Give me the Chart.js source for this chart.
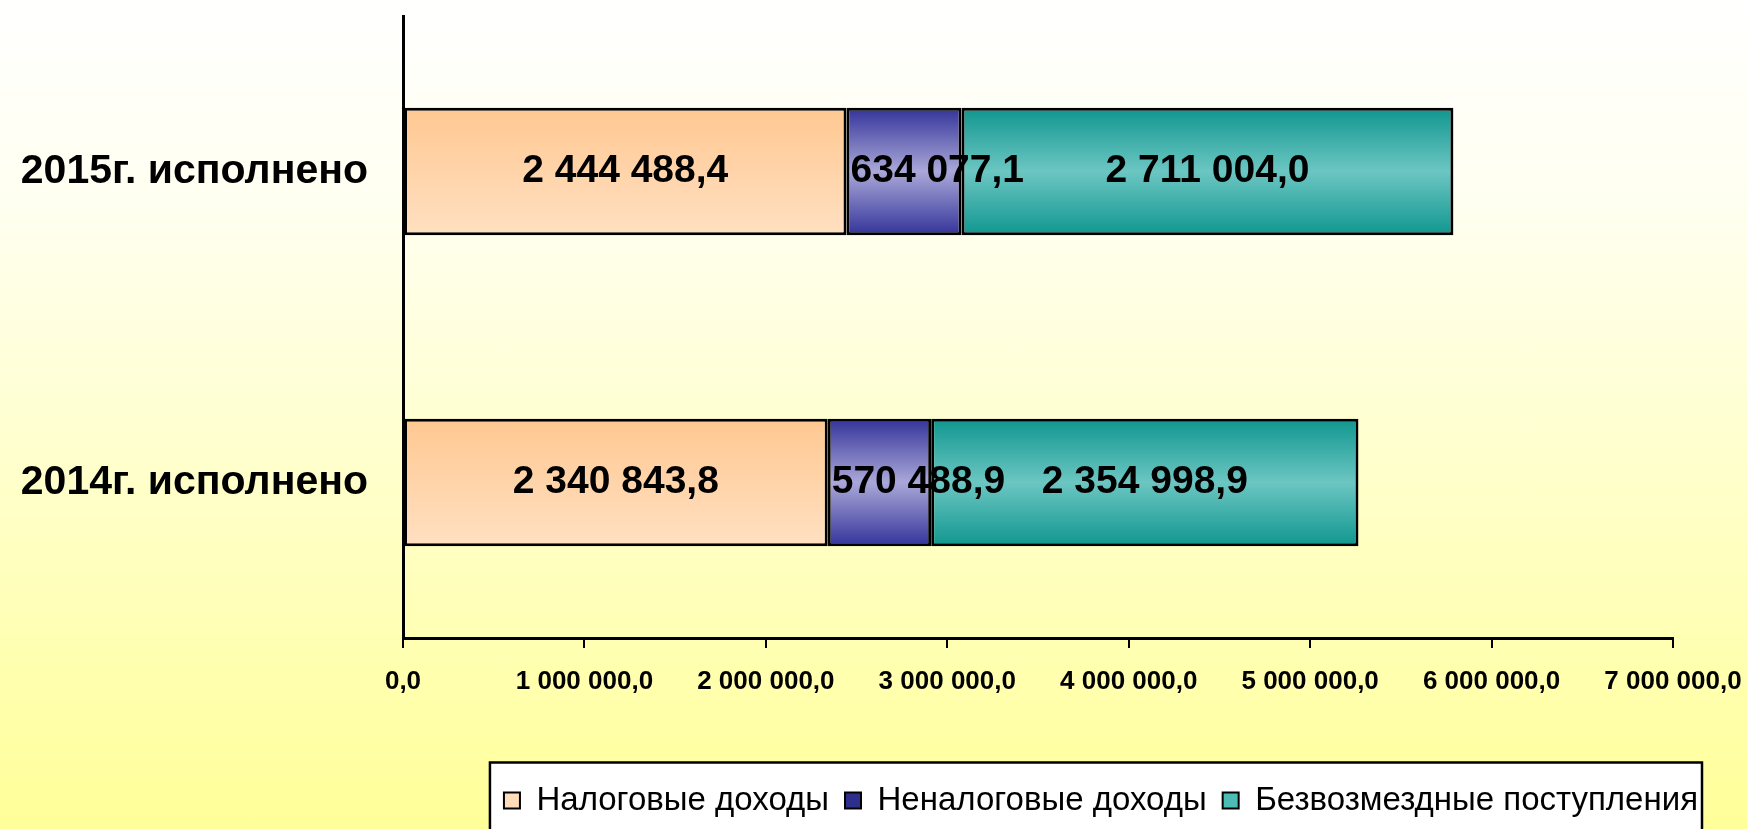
<!DOCTYPE html>
<html>
<head>
<meta charset="utf-8">
<script src="https://cdn.jsdelivr.net/npm/chart.js@4.4.1/dist/chart.umd.min.js"></script>
<style>
html, body { margin: 0; padding: 0; }
body {
  width: 1747px; height: 829px; overflow: hidden;
  background: linear-gradient(to bottom, #ffffff 0%, #fffff0 25%, #ffffc8 60%, #ffff99 100%);
}
canvas { display: block; }
</style>
</head>
<body>
<canvas id="chart" width="1747" height="829"></canvas>
<script>
const categories = ['2015г. исполнено', '2014г. исполнено'];
const seriesNames = ['Налоговые доходы', 'Неналоговые доходы', 'Безвозмездные поступления'];
const taxIncome = [2444488.4, 2340843.8];
const nonTaxIncome = [634077.1, 570488.9];
const grants = [2711004.0, 2354998.9];
const xTickLabels = ['0,0', '1 000 000,0', '2 000 000,0', '3 000 000,0', '4 000 000,0', '5 000 000,0', '6 000 000,0', '7 000 000,0'];

const FONT = 'Arial, "Liberation Sans", sans-serif';
const BAR_SHARE = 0.41;

// vertical shading of each series (edge / middle)
const fills = [
  [[0, '#ffc891'], [1, '#ffe0c2']],
  [[0, '#33339a'], [0.5, '#aaa8d8'], [1, '#33339a']],
  [[0, '#10968f'], [0.5, '#6cc6c2'], [1, '#10968f']],
];
const legendColors = ['#ffdcba', '#2e2e8c', '#4dbbb6'];

function fmt(v) {
  const [i, d] = v.toFixed(1).split('.');
  return i.replace(/\B(?=(\d{3})+(?!\d))/g, ' ') + ',' + d;
}

function barFill(stops) {
  return ctx => {
    const chart = ctx.chart;
    const ys = chart.scales && chart.scales.y;
    if (!ys || ctx.dataIndex === undefined || !chart.chartArea) return stops[stops.length - 1][1];
    const c = ys.getPixelForValue(ctx.dataIndex);
    const h = ys.height / categories.length * BAR_SHARE / 2;
    const g = chart.ctx.createLinearGradient(0, c - h, 0, c + h);
    stops.forEach(([o, col]) => g.addColorStop(o, col));
    return g;
  };
}

const barLabels = {
  id: 'barLabels',
  afterDatasetsDraw(chart) {
    const ctx = chart.ctx;
    ctx.save();
    ctx.font = `bold 39px ${FONT}`;
    ctx.fillStyle = '#000';
    ctx.textBaseline = 'middle';
    chart.data.datasets.forEach((ds, di) => {
      chart.getDatasetMeta(di).data.forEach((bar, i) => {
        const txt = fmt(ds.data[i]);
        const w = ctx.measureText(txt).width;
        const l = Math.min(bar.x, bar.base), r = Math.max(bar.x, bar.base);
        if (w + 10 > r - l) {
          ctx.textAlign = 'left';
          ctx.fillText(txt, l + 4, bar.y);
        } else {
          ctx.textAlign = 'center';
          ctx.fillText(txt, (l + r) / 2, bar.y);
        }
      });
    });
    ctx.restore();
  }
};

const legendFrame = {
  id: 'legendFrame',
  beforeDraw(chart) {
    const lg = chart.legend;
    if (!lg || !lg.legendHitBoxes || !lg.legendHitBoxes.length) return;
    const hb = lg.legendHitBoxes;
    const last = hb[hb.length - 1];
    const left = hb[0].left - 14;
    const right = last.left + last.width + 4;
    const mid = hb[0].top + hb[0].height / 2;
    const top = mid - 38;
    const ctx = chart.ctx;
    ctx.save();
    ctx.fillStyle = '#fff';
    ctx.strokeStyle = '#000';
    ctx.lineWidth = 2.5;
    ctx.fillRect(left, top, right - left, chart.height - top + 10);
    ctx.strokeRect(left, top, right - left, chart.height - top + 10);
    ctx.restore();
  }
};

new Chart(document.getElementById('chart'), {
  type: 'bar',
  data: {
    labels: categories,
    datasets: [
      { label: seriesNames[0], data: taxIncome, backgroundColor: barFill(fills[0]) },
      { label: seriesNames[1], data: nonTaxIncome, backgroundColor: barFill(fills[1]) },
      { label: seriesNames[2], data: grants, backgroundColor: barFill(fills[2]) },
    ].map(d => Object.assign(d, {
      borderColor: '#000',
      borderWidth: 3,
      borderSkipped: false,
      categoryPercentage: 1,
      barPercentage: BAR_SHARE,
    })),
  },
  options: {
    indexAxis: 'y',
    responsive: false,
    animation: false,
    layout: { padding: { top: 16, left: 17, right: 33, bottom: 2 } },
    plugins: {
      tooltip: { enabled: false },
      legend: {
        position: 'bottom',
        align: 'end',
        labels: {
          color: '#000',
          font: { family: FONT, size: 33 },
          boxWidth: 16,
          boxHeight: 16,
          padding: 16,
          generateLabels: chart => chart.data.datasets.map((ds, i) => ({
            text: ds.label,
            fillStyle: legendColors[i],
            strokeStyle: '#000',
            lineWidth: 2,
            fontColor: '#000',
            hidden: false,
            datasetIndex: i,
          })),
        },
      },
    },
    scales: {
      x: {
        stacked: true,
        min: 0,
        max: 7000000,
        afterFit: s => { s.height = 130; s.paddingRight = 74; },
        ticks: {
          stepSize: 1000000,
          color: '#000',
          padding: 18,
          maxRotation: 0,
          autoSkip: false,
          font: { family: FONT, size: 26, weight: 'bold' },
          callback: (v, i) => xTickLabels[i],
        },
        grid: { drawOnChartArea: false, drawTicks: true, tickLength: 10, color: '#000', lineWidth: 2 },
        border: { color: '#000', width: 3 },
      },
      y: {
        stacked: true,
        afterFit: s => { s.width = 386; s.paddingTop = 0; s.paddingBottom = 0; },
        ticks: {
          color: '#000',
          padding: 35,
          autoSkip: false,
          font: { family: FONT, size: 41, weight: 'bold' },
        },
        grid: { display: false, drawTicks: false },
        border: { color: '#000', width: 3 },
      },
    },
  },
  plugins: [legendFrame, barLabels],
});
</script>
</body>
</html>
